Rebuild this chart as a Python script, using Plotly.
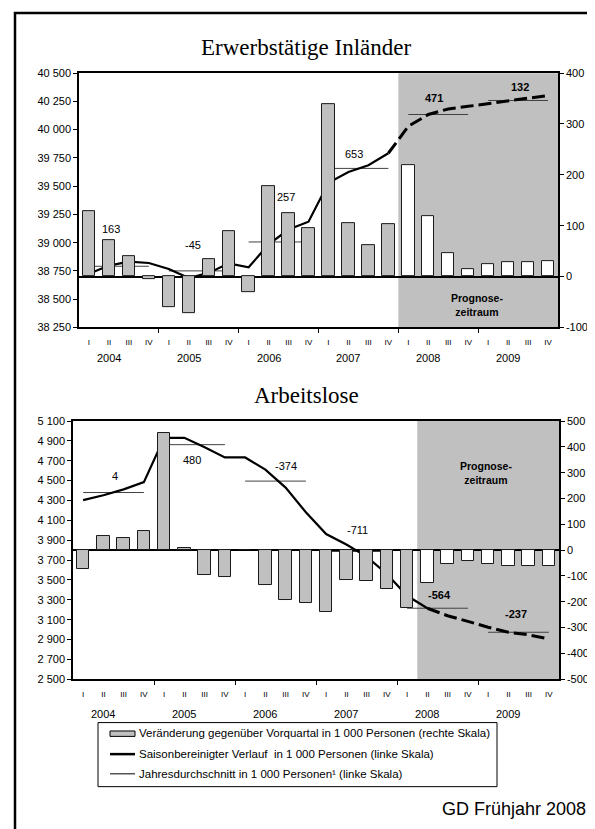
import plotly.graph_objects as go

W, H = 595, 829
PAGE_OFFSET = 8  # default body margin of the html page

QUARTERS = ["I", "II", "III", "IV"] * 6
YEARS = ["2004", "2005", "2006", "2007", "2008", "2009"]

# Erwerbstätige Inländer
ERW_CHANGE = [129, 72, 40, -6, -61, -71, 35, 90, -31, 178, 125, 96,
              340, 106, 61, 103, 220, 118, 47, 15, 25, 29, 29, 31]
ERW_LEVEL = [38724, 38797, 38832, 38820, 38767, 38686, 38732, 38817,
             38782, 38985, 39116, 39185, 39530, 39625, 39685, 39791,
             40030, 40134, 40183, 40206, 40230, 40256, 40282, 40302]
ERW_AVG = [38791, 38750, 39006, 39657, 40134, 40258]
ERW_AVG_CHANGE = ["163", "-45", "257", "653", "471", "132"]
ERW_FORECAST = 16  # erstes Prognosequartal (2008 I)

# Arbeitslose
ALO_CHANGE = [-73, 53, 48, 73, 454, 9, -97, -106, 0, -137, -194, -204,
              -238, -117, -121, -149, -224, -127, -55, -41, -55, -61, -61, -60]
ALO_LEVEL = [4303, 4353, 4412, 4485, 4931, 4931, 4836, 4733,
             4733, 4611, 4430, 4181, 3962, 3856, 3735, 3560,
             3340, 3215, 3139, 3083, 3023, 2973, 2947, 2907]
ALO_AVG = [4380, 4862, 4495, 3786, 3215, 2973]
ALO_AVG_CHANGE = ["4", "480", "-374", "-711", "-564", "-237"]
ALO_FORECAST = 17  # erstes Prognosequartal (2008 II)

# label anchors (x in quarters, y on left scale)
ERW_LABEL_POS = [(1.1, 39122), (5.2, 38983), (9.85, 39401),
                 (13.3, 39785), (17.3, 40282), (21.6, 40378)]
ALO_LABEL_POS = [(1.57, 4551), (5.38, 4703), (10.0, 4643),
                 (13.57, 4000), (17.6, 3353), (21.4, 3155)]

FONT = "Liberation Sans, Arial, sans-serif"
SERIF = "Liberation Serif, Times New Roman, serif"
BAR_GRAY = "#C0C0C0"
AVG_COLOR = "#404040"


def px_x(x):
    return (x - PAGE_OFFSET) / W


def px_y(y):
    return 1 - (y - PAGE_OFFSET) / H


def fmt(v):
    return f"{v:,}".replace(",", " ")


def avg_segments(avg):
    xs, ys = [], []
    for i, v in enumerate(avg):
        xs += [4 * i, 4 * i + 3, None]
        ys += [v, v, None]
    return xs, ys


fig = go.Figure()
annotations = []
shapes = []


def text(x, y, txt, size=11, family=FONT, xanchor="center", **refs):
    annotations.append(dict(
        x=x, y=y, text=txt, showarrow=False, xanchor=xanchor,
        yanchor="middle", font=dict(size=size, family=family, color="black"),
        **refs,
    ))


def add_panel(n, change, level, avg, avg_change, label_pos, forecast,
              solid_end, xdom, ydom, left_ticks, right_ticks, title, title_y,
              year_y, prog_pos):
    xa = "x" if n == 1 else f"x{n}"
    yl = "y" if n == 1 else f"y{2 * n - 1}"
    yr = f"y{2 * n}"
    q = list(range(len(change)))

    colors = [BAR_GRAY if i < forecast else "white" for i in q]
    fig.add_trace(go.Bar(
        x=q, y=change, xaxis=xa, yaxis=yr, width=0.62,
        marker=dict(color=colors, line=dict(color="#1a1a1a", width=1)),
        showlegend=False,
    ))
    xs, ys = avg_segments(avg)
    fig.add_trace(go.Scatter(
        x=xs, y=ys, xaxis=xa, yaxis=yl, mode="lines",
        line=dict(color=AVG_COLOR, width=1), showlegend=False,
    ))
    fig.add_trace(go.Scatter(
        x=q[:solid_end + 1], y=level[:solid_end + 1], xaxis=xa, yaxis=yl,
        mode="lines", line=dict(color="black", width=2.2), showlegend=False,
    ))
    fig.add_trace(go.Scatter(
        x=q[solid_end:], y=level[solid_end:], xaxis=xa, yaxis=yl,
        mode="lines", line=dict(color="black", width=3, dash="13px,5px"),
        showlegend=False,
    ))

    xkey = "xaxis" if n == 1 else f"xaxis{n}"
    ylkey = "yaxis" if n == 1 else f"yaxis{2 * n - 1}"
    yrkey = f"yaxis{2 * n}"
    fig.update_layout(**{
        xkey: dict(
            domain=xdom, anchor=yl, range=[-0.5, 23.5],
            tickmode="array", tickvals=q, ticktext=QUARTERS,
            ticks="", tickfont=dict(size=8, family=FONT, color="black"),
            ticklabelstandoff=6,
            showline=True, linecolor="black", linewidth=1.5, mirror=True,
            showgrid=False, zeroline=False,
            minor=dict(tickmode="array", tickvals=[3.5, 7.5, 11.5, 15.5, 19.5],
                       ticks="outside", ticklen=4, tickcolor="black",
                       tickwidth=1.2, showgrid=False),
        ),
        ylkey: dict(
            domain=ydom, anchor=xa, range=[left_ticks[0], left_ticks[-1]],
            tickmode="array", tickvals=left_ticks,
            ticktext=[fmt(v) for v in left_ticks],
            ticks="outside", ticklen=4, tickcolor="black",
            tickfont=dict(size=11, family=FONT, color="black"),
            showline=True, linecolor="black", linewidth=1.5,
            showgrid=False, zeroline=False,
        ),
        yrkey: dict(
            domain=ydom, anchor=xa, overlaying=yl, side="right",
            range=[right_ticks[0], right_ticks[-1]],
            tickmode="array", tickvals=right_ticks,
            ticktext=[fmt(v) for v in right_ticks],
            ticks="outside", ticklen=4, tickcolor="black",
            tickfont=dict(size=11, family=FONT, color="black"),
            showline=True, linecolor="black", linewidth=1.5,
            showgrid=False, zeroline=True, zerolinecolor="black",
            zerolinewidth=1.5,
        ),
    })

    shapes.append(dict(
        type="rect", xref=xa, yref=f"{yl} domain",
        x0=forecast - 0.5, x1=23.5, y0=0, y1=1,
        fillcolor=BAR_GRAY, line=dict(width=0), layer="below",
    ))

    for i, ((lx, ly), txt) in enumerate(zip(label_pos, avg_change)):
        text(lx, ly, f"<b>{txt}</b>" if i >= 4 else txt, xref=xa, yref=yl)

    for i, yr_txt in enumerate(YEARS):
        text(1 + 4 * i, px_y(year_y), yr_txt, xref=xa, yref="paper")

    text(prog_pos[0], prog_pos[1], "<b>Prognose-<br>zeitraum</b>", size=10.5,
         xref=xa, yref=yr)
    text(px_x(306), px_y(title_y), title, size=23, family=SERIF,
         xref="paper", yref="paper")


add_panel(1, ERW_CHANGE, ERW_LEVEL, ERW_AVG, ERW_AVG_CHANGE, ERW_LABEL_POS,
          ERW_FORECAST, 15,
          [px_x(79), px_x(558)], [px_y(326), px_y(68)],
          list(range(38250, 40501, 250)), list(range(-100, 401, 100)),
          "Erwerbstätige Inländer", 42, 357, (19.44, -56))

add_panel(2, ALO_CHANGE, ALO_LEVEL, ALO_AVG, ALO_AVG_CHANGE, ALO_LABEL_POS,
          ALO_FORECAST, 17,
          [px_x(73), px_x(559)], [px_y(683), px_y(421)],
          list(range(2500, 5101, 200)), list(range(-500, 501, 100)),
          "Arbeitslose", 395, 718, (19.9, 300))

# legend box
shapes.append(dict(type="rect", xref="paper", yref="paper",
                   x0=px_x(98), x1=px_x(497), y0=px_y(792), y1=px_y(727),
                   line=dict(color="black", width=1), fillcolor="white"))
shapes.append(dict(type="rect", xref="paper", yref="paper",
                   x0=px_x(110), x1=px_x(135), y0=px_y(741), y1=px_y(735.5),
                   line=dict(color="black", width=1), fillcolor=BAR_GRAY))
shapes.append(dict(type="line", xref="paper", yref="paper",
                   x0=px_x(110), x1=px_x(135), y0=px_y(759), y1=px_y(759),
                   line=dict(color="black", width=2.5)))
shapes.append(dict(type="line", xref="paper", yref="paper",
                   x0=px_x(110), x1=px_x(135), y0=px_y(779), y1=px_y(779),
                   line=dict(color="black", width=1)))
legend_texts = [
    "Veränderung gegenüber Vorquartal in 1 000 Personen (rechte Skala)",
    "Saisonbereinigter Verlauf  in 1 000 Personen (linke Skala)",
    "Jahresdurchschnitt in 1 000 Personen¹ (linke Skala)",
]
for txt, ly in zip(legend_texts, [738, 759, 779]):
    text(px_x(137), px_y(ly), txt, size=11.5, xanchor="left",
         xref="paper", yref="paper")

text(px_x(588), px_y(815), "GD Frühjahr 2008", size=18, xanchor="right",
     xref="paper", yref="paper")

# outer frame (right/bottom edges lie outside the page)
shapes.append(dict(type="rect", xref="paper", yref="paper",
                   x0=px_x(15), x1=px_x(610), y0=px_y(845), y1=px_y(7),
                   line=dict(color="black", width=2.5), layer="below"))

fig.update_layout(
    width=W, height=H,
    margin=dict(l=0, r=0, t=0, b=0),
    paper_bgcolor="white", plot_bgcolor="rgba(0,0,0,0)",
    showlegend=False, bargap=0,
    shapes=shapes, annotations=annotations,
    font=dict(family=FONT, color="black"),
)

fig.write_html("out.html")
